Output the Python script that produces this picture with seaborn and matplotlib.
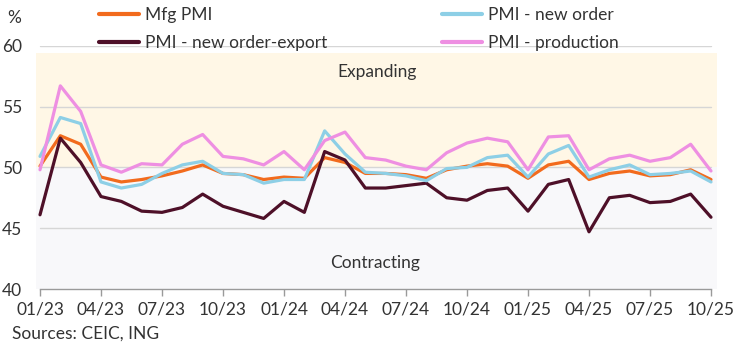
import numpy as np
import pandas as pd
import matplotlib
matplotlib.use("Agg")
import matplotlib.pyplot as plt
import seaborn as sns
from matplotlib.lines import Line2D

months = ["01/23","02/23","03/23","04/23","05/23","06/23","07/23","08/23","09/23","10/23","11/23","12/23",
          "01/24","02/24","03/24","04/24","05/24","06/24","07/24","08/24","09/24","10/24","11/24","12/24",
          "01/25","02/25","03/25","04/25","05/25","06/25","07/25","08/25","09/25","10/25"]
mfg_pmi = [50.1, 52.6, 51.9, 49.2, 48.8, 49.0, 49.3, 49.7, 50.2, 49.5, 49.4, 49.0,
           49.2, 49.1, 50.8, 50.4, 49.5, 49.5, 49.4, 49.1, 49.8, 50.1, 50.3, 50.1,
           49.1, 50.2, 50.5, 49.0, 49.5, 49.7, 49.3, 49.4, 49.8, 49.0]
new_order_export = [46.1, 52.4, 50.4, 47.6, 47.2, 46.4, 46.3, 46.7, 47.8, 46.8, 46.3, 45.8,
                    47.2, 46.3, 51.3, 50.6, 48.3, 48.3, 48.5, 48.7, 47.5, 47.3, 48.1, 48.3,
                    46.4, 48.6, 49.0, 44.7, 47.5, 47.7, 47.1, 47.2, 47.8, 45.9]
new_order = [50.9, 54.1, 53.6, 48.8, 48.3, 48.6, 49.5, 50.2, 50.5, 49.5, 49.4, 48.7,
             49.0, 49.0, 53.0, 51.1, 49.6, 49.5, 49.3, 48.9, 49.9, 50.0, 50.8, 51.0,
             49.2, 51.1, 51.8, 49.2, 49.8, 50.2, 49.4, 49.5, 49.7, 48.8]
production = [49.8, 56.7, 54.6, 50.2, 49.6, 50.3, 50.2, 51.9, 52.7, 50.9, 50.7, 50.2,
              51.3, 49.8, 52.2, 52.9, 50.8, 50.6, 50.1, 49.8, 51.2, 52.0, 52.4, 52.1,
              49.8, 52.5, 52.6, 49.8, 50.7, 51.0, 50.5, 50.8, 51.9, 49.7]
series_names = ["Mfg PMI", "PMI - new order-export", "PMI - new order", "PMI - production"]
tick_labels = ["01/23","04/23","07/23","10/23","01/24","04/24","07/24","10/24","01/25","04/25","07/25","10/25"]
y_ticks = [40, 45, 50, 55, 60]

colors = ["#F26B1D", "#4E1028", "#8DCFE6", "#EE8FE2"]

rows = []
for name, vals in zip(series_names, [mfg_pmi, new_order_export, new_order, production]):
    for i, v in enumerate(vals):
        rows.append({"idx": i, "month": months[i], "value": v, "series": name})
df = pd.DataFrame(rows)

sns.set_theme(style="white")
plt.rcParams["font.family"] = ["Lato", "DejaVu Sans"]
FS = 12.5

fig = plt.figure(figsize=(7.46, 3.48), dpi=100)
ax = fig.add_axes([36/746, 1 - 289/348, (717 - 36)/746, (289 - 45.7)/348])

ax.axhspan(40, 50, color="#F8F8FA", zorder=0, lw=0)
ax.axhspan(50, 59.4, color="#FFF7E6", zorder=0, lw=0)
for yv in [45, 50, 55, 60]:
    ax.plot([0, 33], [yv, yv], color="#D6D6D6", lw=1.0, zorder=1)

sns.lineplot(data=df, x="idx", y="value", hue="series", hue_order=series_names,
             palette=colors, linewidth=2.3, ax=ax, legend=False, zorder=3)

n = len(months)
ax.set_xlim(-4/20.33, (n - 1) + 6/20.33)
ax.set_ylim(40, 60)
ax.set_xticks(range(0, n, 3))
ax.set_xticklabels(tick_labels)
ax.set_yticks(y_ticks)
ax.set_yticklabels([str(v) for v in y_ticks])
ax.set_xlabel("")
ax.set_ylabel("")
for s in ["top", "right", "left"]:
    ax.spines[s].set_visible(False)
ax.spines["bottom"].set_color("#9A9A9A")
ax.spines["bottom"].set_linewidth(1.0)
ax.spines["bottom"].set_bounds(0, n - 1)
ax.tick_params(axis="x", direction="out", length=5, width=1, color="#9A9A9A",
               labelsize=FS, labelcolor="#333333", pad=4, bottom=True)
ax.tick_params(axis="y", length=0, labelsize=FS, labelcolor="#333333", pad=10)

ax.text(16.6, 57.8, "Expanding", ha="center", va="center", fontsize=FS, color="#333333")
ax.text(16.5, 42.15, "Contracting", ha="center", va="center", fontsize=FS, color="#333333")

fig.text(14/746, 1 - 18/348, "%", ha="center", va="center", fontsize=FS, color="#333333")
fig.text(12/746, 1 - 334/348, "Sources: CEIC, ING", ha="left", va="center", fontsize=FS, color="#333333")

handles = [Line2D([0], [0], color=c, lw=3) for c in colors]
leg = fig.legend(handles, series_names, ncol=2, loc="upper left",
                 bbox_to_anchor=(92/746, 1 + 0/348), frameon=False, fontsize=FS,
                 handlelength=2.3, handletextpad=0.35, columnspacing=6.6,
                 labelspacing=0.72, borderaxespad=0, borderpad=0.4)
for t in leg.get_texts():
    t.set_color("#333333")

fig.savefig("out.png", dpi=100)
